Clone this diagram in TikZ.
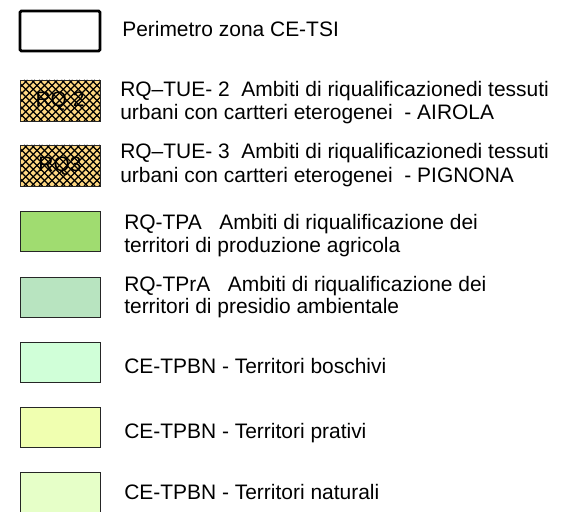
\documentclass[tikz,border=0pt]{standalone}
\usepackage{fontspec}
\setmainfont{Liberation Sans}
\usetikzlibrary{positioning}

\definecolor{hatchfill}{HTML}{FFD882}
\definecolor{agricola}{HTML}{A0DC70}
\definecolor{presidio}{HTML}{B8E4C0}
\definecolor{boschivi}{HTML}{D0FFD8}
\definecolor{prativi}{HTML}{F0FFB0}
\definecolor{naturali}{HTML}{E6FFC8}

\begin{document}
\begin{tikzpicture}[x=0.025cm,y=-0.025cm,
  box/.style={draw=black!85,line width=0.7pt},
  hatch/.style={draw=black,line width=0.85pt},
  legtext/.style={anchor=base west,inner sep=0pt,font=\fontsize{14.9}{17}\selectfont},
  boxtext/.style={inner sep=0pt,font=\fontsize{14.9}{17}\selectfont}]
\useasboundingbox[fill=white] (0,0) rectangle (576,511);

% perimetro
\draw[draw=black,line width=2.1pt,fill=white,rounded corners=1pt] (20,11) rectangle (100,51);
\node[legtext] (perim) at (122,37) {Perimetro zona CE-TSI};

% ambiti tessuti urbani (tratteggio)
\foreach \ytop in {80,145} {
\fill[hatchfill] (20,\ytop) rectangle (100,\ytop+41);
\begin{scope}
\clip (20,\ytop) rectangle (100,\ytop+41);
\foreach \i in {0,...,17} {
  \draw[hatch] (-21+\i*7.5,\ytop+41) -- ++(41,-41);
  \draw[hatch] (-21+\i*7.5,\ytop) -- ++(41,41);
}
\end{scope}
\draw[box] (20,\ytop) rectangle (100,\ytop+41);
}
\node[boxtext] (rq2) at (60,101) {RQ 2};
\node[boxtext] (rq3) at (60,166) {RQ3};

\node[legtext] (tue2a) at (120,97) {RQ–TUE- 2\ \ Ambiti di riqualificazionedi tessuti};
\node[legtext] (tue2b) at (120,120) {urbani con cartteri eterogenei\ \ - AIROLA};
\node[legtext] (tue3a) at (120,159) {RQ–TUE- 3\ \ Ambiti di riqualificazionedi tessuti};
\node[legtext] (tue3b) at (120,182) {urbani con cartteri eterogenei\ \ - PIGNONA};

% territori
\draw[box,fill=agricola] (20,211) rectangle (100,251);
\node[legtext] (tpaa) at (124,229) {RQ-TPA\ \ \ Ambiti di riqualificazione dei};
\node[legtext] (tpab) at (124,252) {territori di produzione agricola};

\draw[box,fill=presidio] (20,277) rectangle (100,317);
\node[legtext] (tpraa) at (124,291) {RQ-TPrA\ \ \ Ambiti di riqualificazione dei};
\node[legtext] (tprab) at (124,313) {territori di presidio ambientale};

\draw[box,fill=boschivi] (20,342) rectangle (100,382);
\node[legtext] (bosc) at (124,373) {CE-TPBN - Territori boschivi};

\draw[box,fill=prativi] (20,407) rectangle (100,447);
\node[legtext] (prat) at (124,438) {CE-TPBN - Territori prativi};

\draw[box,fill=naturali] (20,472) rectangle (100,514);
\node[legtext] (natu) at (124,499) {CE-TPBN - Territori naturali};

\end{tikzpicture}
\end{document}
